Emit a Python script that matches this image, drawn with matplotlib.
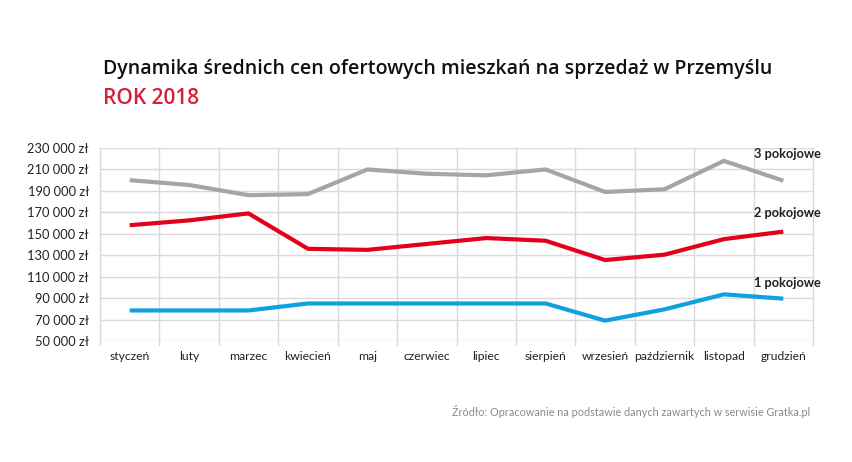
import matplotlib
matplotlib.use("Agg")
import matplotlib.pyplot as plt
import numpy as np

months = ["styczeń", "luty", "marzec", "kwiecień", "maj", "czerwiec", "lipiec",
          "sierpień", "wrzesień", "październik", "listopad", "grudzień"]
pok3 = [200000, 195500, 186000, 187000, 210000, 206000, 204500, 210000, 189000, 191500, 218000, 199500]
pok2 = [158000, 162500, 169000, 136000, 135000, 140500, 146000, 143500, 125500, 130500, 145000, 152000]
pok1 = [78500, 78500, 78500, 85000, 85000, 85000, 85000, 85000, 69000, 79500, 93500, 89500]
series_names = ["3 pokojowe", "2 pokojowe", "1 pokojowe"]
yticks = list(range(50000, 230001, 20000))

title = "Dynamika średnich cen ofertowych mieszkań na sprzedaż w Przemyślu"
subtitle = "ROK 2018"
source = "Źródło: Opracowanie na podstawie danych zawartych w serwisie Gratka.pl"

plt.rcParams['font.family'] = ['Lato', 'DejaVu Sans']

fig = plt.figure(figsize=(8.52, 4.62), dpi=100)
ax = fig.add_axes([100/852, 1-341/462, 713/852, 193/462])

x = np.arange(len(months))
colors = ["#a5a5a5", "#e2001a", "#0fa0e0"]
for vals, c in zip([pok3, pok2, pok1], colors):
    ax.plot(x, vals, color=c, lw=3.0, solid_capstyle='butt', zorder=3)

ax.set_xlim(-0.5, len(months) - 0.5)
ax.set_ylim(50000, 230000)
ax.set_yticks(yticks)
ax.set_yticklabels([f"{v//1000} 000 zł" for v in yticks], fontsize=9.3, color="#222222")
ax.set_xticks(x)
ax.set_xticklabels(months, fontsize=8.7, color="#222222")
ax.tick_params(axis='x', length=0, pad=7)
ax.tick_params(axis='y', length=0, pad=8)

grid_c = "#d9d9d9"
for yv in yticks:
    ax.axhline(yv, color=grid_c, lw=1.0, zorder=1)
for b in np.arange(-0.5, len(months), 1.0):
    ax.plot([b, b], [50000, 230000], color=grid_c, lw=1.0, zorder=1, clip_on=False)
    ax.plot([b, b], [50000, 46500], color=grid_c, lw=1.0, zorder=1, clip_on=False)
for s in ax.spines.values():
    s.set_visible(False)

# series labels at right end
label_y = [224000, 169000, 104500]
for name, ly in zip(series_names, label_y):
    ax.text(10.5, ly, name, fontsize=9.2, fontweight='bold',
            color="#222222", ha='left', va='center', clip_on=False)

fig.text(103/852, 1-69/462, title, fontsize=14.0, fontweight='semibold', color="#111111",
         va='center', ha='left', family=['Open Sans', 'DejaVu Sans'])
fig.text(103/852, 1-98/462, subtitle, fontsize=15.0, fontweight='semibold', color="#d6203b",
         va='center', ha='left', family=['Open Sans', 'DejaVu Sans'])
fig.text(810/852, 1-412/462, source, fontsize=7.8, color="#8a8a8a", va='center', ha='right')

fig.savefig("out.png", dpi=100, facecolor="white")
